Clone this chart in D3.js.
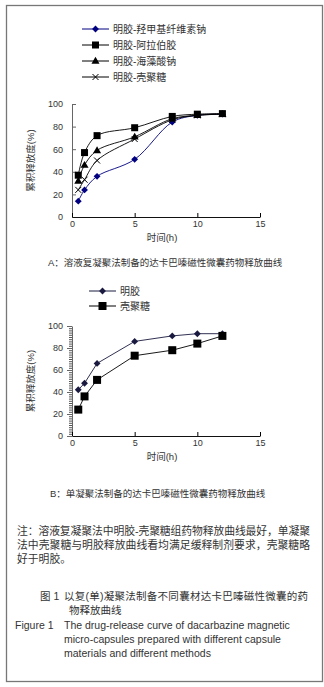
<!DOCTYPE html>
<html>
<head>
<meta charset="utf-8">
<script src="https://cdn.jsdelivr.net/npm/d3@7"></script>
<style>
  body { margin: 0; background: #fff; }
  svg text { font-family: "Liberation Sans", Arial, "Noto Sans CJK SC", sans-serif; fill: #333; }
</style>
</head>
<body>
<svg id="fig" width="324" height="687"></svg>
<script>
// 时间点 (h)
var hours = [0.5, 1, 2, 5, 8, 10, 12];

// A：溶液复凝聚法
var namesA = ["明胶-羟甲基纤维素钠", "明胶-阿拉伯胶", "明胶-海藻酸钠", "明胶-壳聚糖"];
var cmcA    = [14, 24, 36, 51, 84, 90, 91];
var arabicA = [37, 57, 72, 79, 89, 91, 91.5];
var algA    = [32, 46, 59, 71, 87, 90, 91];
var chitA   = [24, 33, 50, 69, 86, 90, 91];

// B：单凝聚法
var namesB = ["明胶", "壳聚糖"];
var gelB   = [42, 48, 66, 86, 91, 93, 93];
var chitB  = [24, 36, 51, 73, 78, 84, 91];

var xTicks = [0, 5, 10, 15];
var yTicks = [0, 20, 40, 60, 80, 100];

var svg = d3.select("#fig");

// 外框
svg.append("rect")
    .attr("x", 6.5).attr("y", 5.5)
    .attr("width", 316).attr("height", 676)
    .attr("fill", "none").attr("stroke", "#777").attr("stroke-width", 1.3);

function marker(g, type, x, y, color) {
    if (type === "diamond") {
        g.append("path").attr("d", d3.symbol(d3.symbolDiamond2, 30)())
            .attr("transform", "translate(" + x + "," + y + ")").attr("fill", color);
    } else if (type === "square") {
        g.append("rect").attr("x", x - 3.5).attr("y", y - 3.5).attr("width", 7).attr("height", 7).attr("fill", color);
    } else if (type === "bigsquare") {
        g.append("rect").attr("x", x - 4).attr("y", y - 4).attr("width", 8).attr("height", 8).attr("fill", color);
    } else if (type === "triangle") {
        g.append("path").attr("d", d3.symbol(d3.symbolTriangle, 28)())
            .attr("transform", "translate(" + x + "," + (y + 0.5) + ")").attr("fill", color);
    } else if (type === "cross") {
        g.append("path").attr("d", "M-3,-3L3,3M-3,3L3,-3")
            .attr("transform", "translate(" + x + "," + y + ")")
            .attr("stroke", color).attr("stroke-width", 1).attr("fill", "none");
    }
}

function drawChart(cfg) {
    var x = d3.scaleLinear().domain([0, 15]).range([72, 260]);
    var y = d3.scaleLinear().domain([0, 100]).range([cfg.y0, cfg.y100]);
    var g = svg.append("g");

    // 图例
    cfg.series.forEach(function (s, i) {
        var ly = cfg.legY + i * cfg.legStep;
        g.append("line").attr("x1", cfg.legX).attr("x2", cfg.legX + 27)
            .attr("y1", ly).attr("y2", ly).attr("stroke", s.color).attr("stroke-width", 1);
        marker(g, s.mark, cfg.legX + 13.5, ly, s.color);
        g.append("text").attr("x", cfg.legX + 31).attr("y", ly + 3.5)
            .style("font-size", "10px").text(s.name);
    });

    // y 轴
    if (cfg.minor) {
        g.append("g").attr("transform", "translate(72,0)")
            .call(d3.axisLeft(y).tickValues(d3.range(0, 101, 2)).tickSize(3).tickFormat(""))
            .call(function (a) { a.select(".domain").remove(); a.selectAll("line").attr("stroke", "#555"); });
    }
    var ya = g.append("g").attr("transform", "translate(72,0)")
        .call(d3.axisLeft(y).tickValues(yTicks).tickSizeInner(cfg.minor ? 5 : -4).tickSizeOuter(0).tickPadding(cfg.minor ? 4 : 9));
    ya.select(".domain").attr("stroke", "#666");
    ya.selectAll("line").attr("stroke", "#666");
    ya.selectAll("text").style("font-size", "9px").style("font-family", "Liberation Sans, Arial, sans-serif").attr("fill", "#333");

    // x 轴
    var xa = g.append("g").attr("transform", "translate(0," + cfg.y0 + ")")
        .call(d3.axisBottom(x).tickValues(xTicks).tickSizeInner(-4).tickSizeOuter(0).tickPadding(4));
    xa.select(".domain").attr("stroke", "#111");
    xa.selectAll("text").style("font-size", "9px").style("font-family", "Liberation Sans, Arial, sans-serif").attr("fill", "#333");

    // 曲线
    var line = d3.line()
        .x(function (d) { return x(d[0]); })
        .y(function (d) { return y(d[1]); })
        .curve(cfg.curve);
    cfg.series.forEach(function (s) {
        var pts = hours.map(function (h, i) { return [h, s.values[i]]; });
        g.append("path").datum(pts).attr("d", line)
            .attr("fill", "none").attr("stroke", s.color).attr("stroke-width", 0.9);
    });
    cfg.series.forEach(function (s) {
        hours.forEach(function (h, i) { marker(g, s.mark, x(h), y(s.values[i]), s.color); });
    });

    // 轴标题
    g.append("text")
        .attr("transform", "translate(34," + ((cfg.y0 + cfg.y100) / 2) + ") rotate(-90)")
        .attr("text-anchor", "middle").style("font-size", "9.5px").text("累积释放度(%)");
    g.append("text").attr("x", 162).attr("y", cfg.y0 + 24)
        .attr("text-anchor", "middle").style("font-size", "9.5px").text("时间(h)");

    // 小标题
    g.append("text").attr("x", cfg.capX).attr("y", cfg.capY)
        .style("font-size", "9.5px").text(cfg.caption);
}

drawChart({
    y0: 217, y100: 104,
    legX: 82, legY: 29, legStep: 16,
    curve: d3.curveCatmullRom.alpha(0.5),
    minor: false,
    capX: 48, capY: 266,
    caption: "A：溶液复凝聚法制备的达卡巴嗪磁性微囊药物释放曲线",
    series: [
        {name: namesA[0], values: cmcA,    mark: "diamond",  color: "#000080"},
        {name: namesA[1], values: arabicA, mark: "square",   color: "#000"},
        {name: namesA[2], values: algA,    mark: "triangle", color: "#000"},
        {name: namesA[3], values: chitA,   mark: "cross",    color: "#000"}
    ]
});

drawChart({
    y0: 436, y100: 326,
    legX: 89, legY: 291, legStep: 15,
    curve: d3.curveLinear,
    minor: true,
    capX: 50, capY: 497,
    caption: "B：单凝聚法制备的达卡巴嗪磁性微囊药物释放曲线",
    series: [
        {name: namesB[0], values: gelB,  mark: "diamond",   color: "#1a1a40"},
        {name: namesB[1], values: chitB, mark: "bigsquare", color: "#000"}
    ]
});

// 注
var note = [
    "注：溶液复凝聚法中明胶-壳聚糖组药物释放曲线最好，单凝聚",
    "法中壳聚糖与明胶释放曲线看均满足缓释制剂要求，壳聚糖略",
    "好于明胶。"
];
note.forEach(function (t, i) {
    var tx = svg.append("text").attr("x", 17).attr("y", 535 + i * 14)
        .style("font-size", "10.8px").attr("fill", "#222").text(t);
    if (i < 2) tx.attr("textLength", 293).attr("lengthAdjust", "spacing");
});

// 图题
svg.append("text").attr("x", 40).attr("y", 600).style("font-size", "10.5px").text("图 1");
svg.append("text").attr("x", 64).attr("y", 600).style("font-size", "10.5px")
    .attr("textLength", 244).attr("lengthAdjust", "spacing")
    .text("以复(单)凝聚法制备不同囊材达卡巴嗪磁性微囊的药");
svg.append("text").attr("x", 69).attr("y", 614).style("font-size", "10.5px").text("物释放曲线");

svg.append("text").attr("x", 15).attr("y", 629).style("font-size", "10.5px").text("Figure 1");
var eng = [
    "The drug-release curve of dacarbazine magnetic",
    "micro-capsules prepared with different capsule",
    "materials and different methods"
];
eng.forEach(function (t, i) {
    svg.append("text").attr("x", 64).attr("y", 629 + i * 14).style("font-size", "10.5px").text(t);
});
</script>
</body>
</html>
